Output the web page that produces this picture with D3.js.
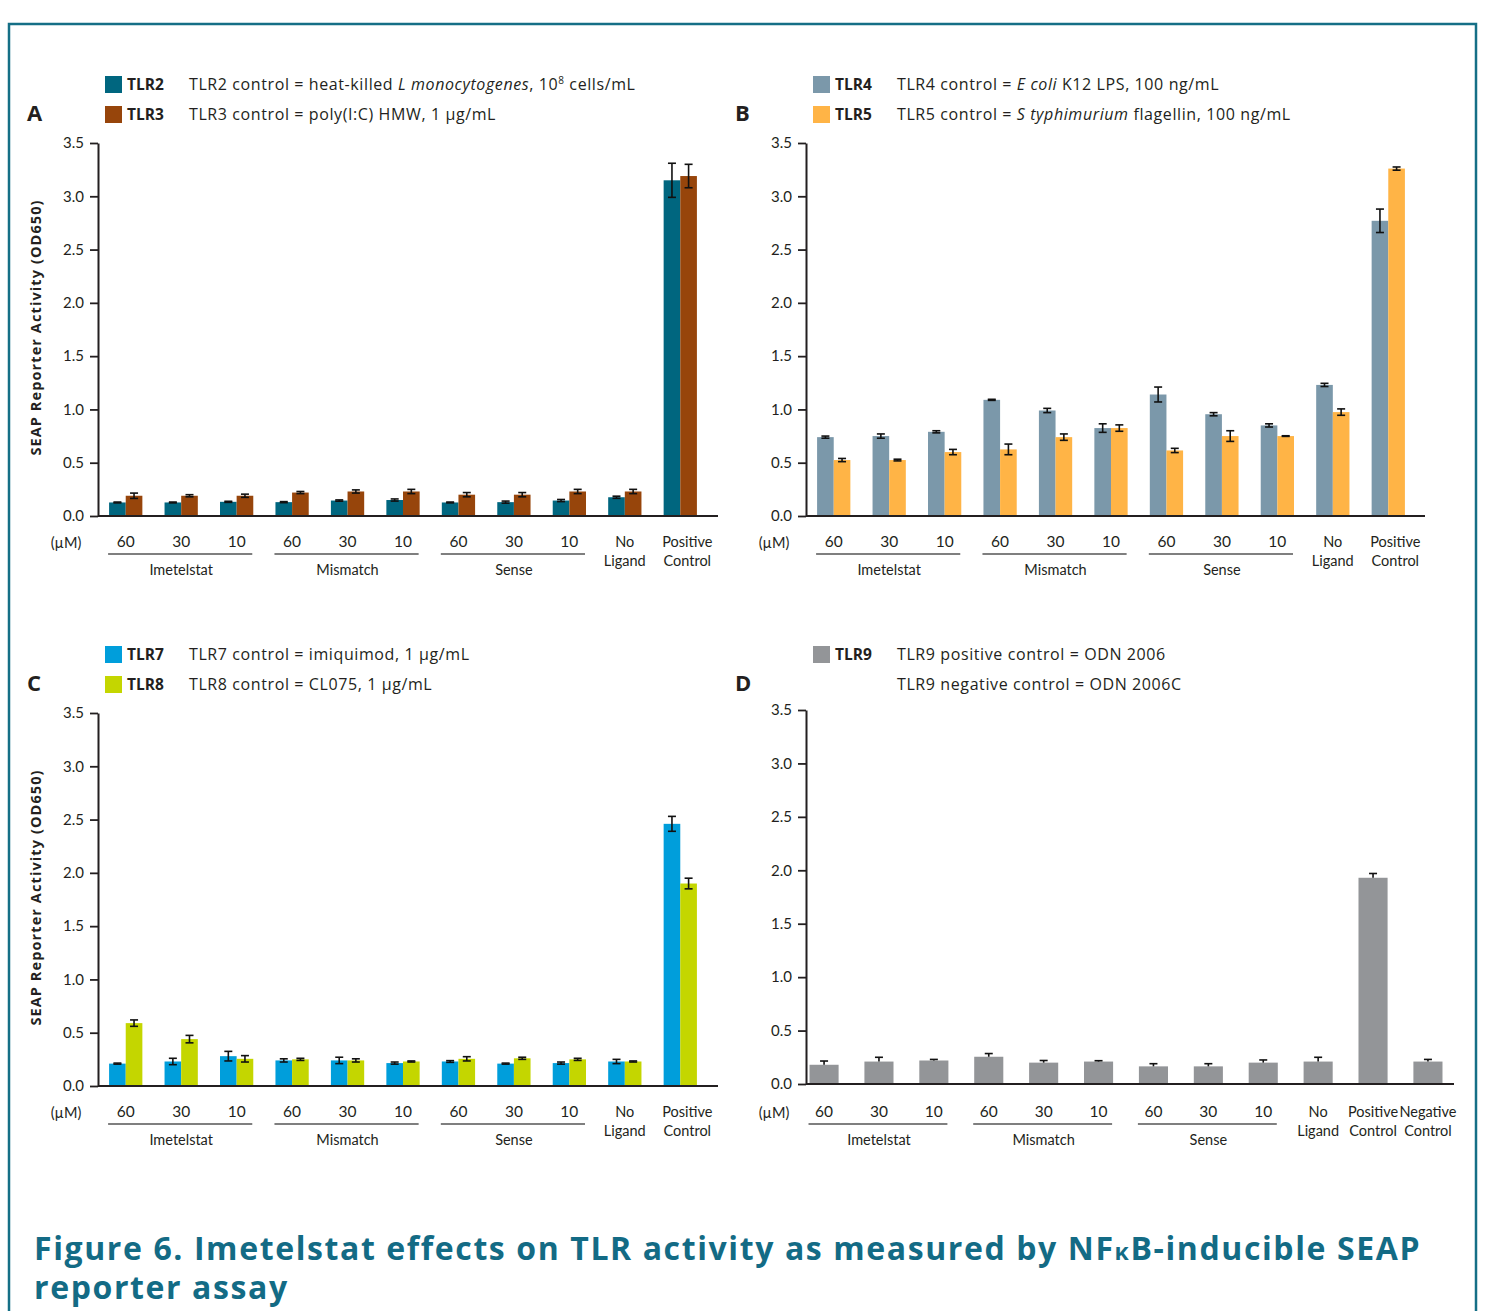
<!DOCTYPE html>
<html>
<head>
<meta charset="utf-8">
<script src="https://cdn.jsdelivr.net/npm/d3@7"></script>
<style>
  body { margin: 0; background: #fff; }
  text { font-family: Lato, "Open Sans", sans-serif; fill: #231f20; }
</style>
</head>
<body>
<svg id="chart" width="1486" height="1311"></svg>
<script>
// categories along the x axis
const categories = ["60", "30", "10", "60", "30", "10", "60", "30", "10", "No Ligand", "Positive Control"];
const categoriesD = categories.concat(["Negative Control"]);
const groupNames = ["Imetelstat", "Mismatch", "Sense"];
const yTicks = [0, 0.5, 1, 1.5, 2, 2.5, 3, 3.5];

// panel A
const tlr2 = [0.127, 0.127, 0.133, 0.13, 0.145, 0.15, 0.127, 0.13, 0.145, 0.176, 3.15];
const tlr2Err = [0.004, 0.004, 0.005, 0.005, 0.006, 0.01, 0.004, 0.01, 0.01, 0.01, 0.16];
const tlr3 = [0.19, 0.19, 0.19, 0.22, 0.23, 0.23, 0.2, 0.2, 0.23, 0.23, 3.19];
const tlr3Err = [0.025, 0.01, 0.015, 0.01, 0.015, 0.02, 0.02, 0.02, 0.02, 0.02, 0.11];
// panel B
const tlr4 = [0.74, 0.75, 0.79, 1.09, 0.99, 0.825, 1.14, 0.955, 0.85, 1.23, 2.77];
const tlr4Err = [0.01, 0.02, 0.01, 0.005, 0.02, 0.04, 0.07, 0.015, 0.015, 0.015, 0.11];
const tlr5 = [0.525, 0.525, 0.6, 0.625, 0.74, 0.825, 0.615, 0.75, 0.75, 0.975, 3.26];
const tlr5Err = [0.015, 0.008, 0.025, 0.05, 0.03, 0.03, 0.02, 0.05, 0.003, 0.03, 0.015];
// panel C
const tlr7 = [0.21, 0.23, 0.28, 0.24, 0.24, 0.215, 0.23, 0.21, 0.215, 0.23, 2.46];
const tlr7Err = [0.005, 0.03, 0.045, 0.015, 0.03, 0.01, 0.008, 0.005, 0.01, 0.02, 0.07];
const tlr8 = [0.59, 0.44, 0.255, 0.25, 0.24, 0.23, 0.255, 0.26, 0.25, 0.23, 1.9];
const tlr8Err = [0.03, 0.035, 0.03, 0.01, 0.015, 0.005, 0.02, 0.01, 0.01, 0.005, 0.05];
// panel D
const tlr9 = [0.18, 0.21, 0.22, 0.255, 0.2, 0.21, 0.165, 0.165, 0.2, 0.21, 1.93, 0.21];
const tlr9Err = [0.035, 0.04, 0.01, 0.03, 0.02, 0.008, 0.025, 0.025, 0.025, 0.04, 0.04, 0.02];

const svg = d3.select("#chart");

// outer frame
svg.append("rect")
  .attr("x", 9).attr("y", 24)
  .attr("width", 1467).attr("height", 1320)
  .attr("fill", "none")
  .attr("stroke", "#156f86")
  .attr("stroke-width", 2.5);

const panels = [
  {
    letter: "A", x0: 98, yTop: 143, yZero: 516, end: 708, axisEnd: 718, pIn: 0.4, pOut: 0.2,
    legendY: 84, labelShift: 0, lastShift: 7, cats: categories,
    series: [
      { name: "TLR2", values: tlr2, err: tlr2Err, color: "#00667f" },
      { name: "TLR3", values: tlr3, err: tlr3Err, color: "#97450b" }
    ],
    legend: [
      { name: "TLR2", color: "#00667f", text: [["TLR2 control = heat-killed "], ["L monocytogenes", "i"], [", 10"], ["8", "sup"], [" cells/mL", "down"]] },
      { name: "TLR3", color: "#97450b", text: [["TLR3 control = poly(I:C) HMW, 1 µg/mL"]] }
    ]
  },
  {
    letter: "B", x0: 806, yTop: 143, yZero: 516, end: 1416, axisEnd: 1425, pIn: 0.4, pOut: 0.2,
    legendY: 84, labelShift: 0, lastShift: 7, cats: categories,
    series: [
      { name: "TLR4", values: tlr4, err: tlr4Err, color: "#7b98aa" },
      { name: "TLR5", values: tlr5, err: tlr5Err, color: "#ffb446" }
    ],
    legend: [
      { name: "TLR4", color: "#7b98aa", text: [["TLR4 control = "], ["E coli", "i"], [" K12 LPS, 100 ng/mL"]] },
      { name: "TLR5", color: "#ffb446", text: [["TLR5 control = "], ["S typhimurium", "i"], [" flagellin, 100 ng/mL"]] }
    ]
  },
  {
    letter: "C", x0: 98, yTop: 713, yZero: 1086, end: 708, axisEnd: 718, pIn: 0.4, pOut: 0.2,
    legendY: 654, labelShift: 0, lastShift: 7, cats: categories,
    series: [
      { name: "TLR7", values: tlr7, err: tlr7Err, color: "#009edb" },
      { name: "TLR8", values: tlr8, err: tlr8Err, color: "#c4d600" }
    ],
    legend: [
      { name: "TLR7", color: "#009edb", text: [["TLR7 control = imiquimod, 1 µg/mL"]] },
      { name: "TLR8", color: "#c4d600", text: [["TLR8 control = CL075, 1 µg/mL"]] }
    ]
  },
  {
    letter: "D", x0: 806, yTop: 710, yZero: 1084, end: 1446, axisEnd: 1454, pIn: 0.47, pOut: 0.064,
    legendY: 654, labelShift: 2, lastShift: 0, cats: categoriesD, upOnly: true,
    series: [
      { name: "TLR9", values: tlr9, err: tlr9Err, color: "#939598" }
    ],
    legend: [
      { name: "TLR9", color: "#939598", text: [["TLR9 positive control = ODN 2006"]] },
      { name: null, text: [["TLR9 negative control = ODN 2006C"]] }
    ]
  }
];

panels.forEach(function (p) {
  const g = svg.append("g");
  const n = p.cats.length;

  let x = d3.scaleBand().domain(d3.range(n)).range([p.x0, p.end])
    .paddingInner(p.pIn).paddingOuter(p.pOut);
  let xs = d3.scaleBand().domain(p.series.map(s => s.name)).range([0, x.bandwidth()]);
  let y = d3.scaleLinear().domain([0, 3.5]).range([p.yZero, p.yTop]);

  // panel letter
  g.append("text")
    .attr("x", p.x0 - 71).attr("y", p.legendY + 37)
    .style("font-family", "'Open Sans', sans-serif")
    .style("font-weight", "bold").style("font-size", "22px")
    .text(p.letter);

  // legend
  p.legend.forEach(function (l, i) {
    let cy = p.legendY + i * 30;
    if (l.name) {
      g.append("rect")
        .attr("x", p.x0 + 7).attr("y", cy - 8)
        .attr("width", 17).attr("height", 17)
        .attr("fill", l.color);
      g.append("text")
        .attr("x", p.x0 + 29).attr("y", cy + 6)
        .style("font-family", "'Open Sans', sans-serif")
        .style("font-weight", "bold").style("font-size", "15.5px")
        .text(l.name);
    }
    let t = g.append("text")
      .attr("x", p.x0 + 91).attr("y", cy + 6)
      .style("font-family", "'Open Sans', sans-serif")
      .style("font-size", "16px")
      .style("letter-spacing", "0.6px");
    l.text.forEach(function (part) {
      let ts = t.append("tspan").text(part[0]);
      if (part[1] === "i") ts.style("font-style", "italic");
      if (part[1] === "sup") ts.attr("dy", -6).style("font-size", "10px");
      if (part[1] === "down") ts.attr("dy", 6);
    });
  });

  // y axis
  let yAxis = g.append("g")
    .attr("transform", "translate(" + p.x0 + ",0)")
    .call(d3.axisLeft(y).tickValues(yTicks).tickFormat(d3.format(".1f")).tickSize(8).tickSizeOuter(0).tickPadding(6));
  yAxis.selectAll("text").style("font-size", "15px").style("fill", "#231f20");
  yAxis.selectAll("line").attr("stroke", "#231f20").attr("stroke-width", 1.8);
  yAxis.select(".domain").attr("stroke", "#231f20").attr("stroke-width", 2);

  // y axis title (only the left column carries it)
  if (p.x0 < 400) {
    g.append("text")
      .attr("transform", "translate(" + (p.x0 - 57) + "," + ((p.yTop + p.yZero) / 2 - 2) + ") rotate(-90)")
      .attr("text-anchor", "middle")
      .style("font-family", "'Open Sans', sans-serif")
      .style("font-weight", "bold").style("font-size", "14.5px")
      .style("letter-spacing", "1.1px")
      .text("SEAP Reporter Activity (OD650)");
  }

  // bars
  let sg = g.append("g").selectAll("g")
    .data(p.series)
    .enter()
    .append("g")
    .attr("fill", d => d.color);

  sg.selectAll("rect")
    .data(s => s.values.map((v, i) => ({ i: i, v: v, name: s.name })))
    .enter()
    .append("rect")
    .attr("x", d => x(d.i) + xs(d.name))
    .attr("y", d => y(d.v))
    .attr("width", xs.bandwidth())
    .attr("height", d => y(0) - y(d.v));

  // error bars
  let eg = g.append("g").attr("stroke", "#111").attr("stroke-width", 1.6).attr("fill", "none");
  p.series.forEach(function (s) {
    s.values.forEach(function (v, i) {
      let cx = x(i) + xs(s.name) + xs.bandwidth() / 2;
      let hi = v + s.err[i];
      let lo = p.upOnly ? v : v - s.err[i];
      eg.append("line").attr("x1", cx).attr("x2", cx).attr("y1", y(hi)).attr("y2", y(lo));
      eg.append("line").attr("x1", cx - 4).attr("x2", cx + 4).attr("y1", y(hi)).attr("y2", y(hi));
      if (!p.upOnly) eg.append("line").attr("x1", cx - 4).attr("x2", cx + 4).attr("y1", y(lo)).attr("y2", y(lo));
    });
  });

  // x axis
  let xAxis = g.append("g")
    .attr("transform", "translate(0," + p.yZero + ")")
    .call(d3.axisBottom(x).tickSize(0).tickSizeOuter(0).tickFormat(() => ""));
  xAxis.select(".domain")
    .attr("d", "M" + p.x0 + ",0H" + p.axisEnd)
    .attr("stroke", "#231f20").attr("stroke-width", 2.2);

  let ly = p.yZero + p.labelShift;

  // category labels
  p.cats.forEach(function (c, i) {
    let cx = x(i) + x.bandwidth() / 2 + (i === 10 ? p.lastShift : 0);
    let words = c.split(" ");
    let t = g.append("text")
      .attr("text-anchor", "middle")
      .attr("x", cx).attr("y", ly + 31)
      .style("font-size", words.length > 1 ? "14.5px" : "15.5px");
    words.forEach(function (w, k) {
      t.append("tspan").attr("x", cx).attr("dy", k === 0 ? 0 : 19).text(w);
    });
  });

  g.append("text")
    .attr("x", p.x0 - 32).attr("y", ly + 32)
    .attr("text-anchor", "middle")
    .style("font-size", "14.5px")
    .text("(µM)");

  // group brackets
  groupNames.forEach(function (name, k) {
    let a = x(k * 3), b = x(k * 3 + 2) + x.bandwidth();
    g.append("line")
      .attr("x1", a - 1).attr("x2", b - 1)
      .attr("y1", ly + 38).attr("y2", ly + 38)
      .attr("stroke", "#555").attr("stroke-width", 1.5);
    g.append("text")
      .attr("x", (a + b) / 2).attr("y", ly + 59)
      .attr("text-anchor", "middle")
      .style("font-size", "14.5px")
      .text(name);
  });
});

// figure caption
let cap = svg.append("text")
  .attr("x", 34).attr("y", 1260)
  .style("font-family", "'Open Sans', sans-serif")
  .style("font-weight", "bold").style("font-size", "32px")
  .style("letter-spacing", "1.6px")
  .style("fill", "#136b85");
cap.append("tspan").text("Figure 6. Imetelstat effects on TLR activity as measured by NF");
cap.append("tspan").style("font-size", "23px").text("κ");
cap.append("tspan").text("B-inducible SEAP");
svg.append("text")
  .attr("x", 34).attr("y", 1299)
  .style("font-family", "'Open Sans', sans-serif")
  .style("font-weight", "bold").style("font-size", "32px")
  .style("letter-spacing", "1.6px")
  .style("fill", "#136b85")
  .text("reporter assay");
</script>
</body>
</html>
